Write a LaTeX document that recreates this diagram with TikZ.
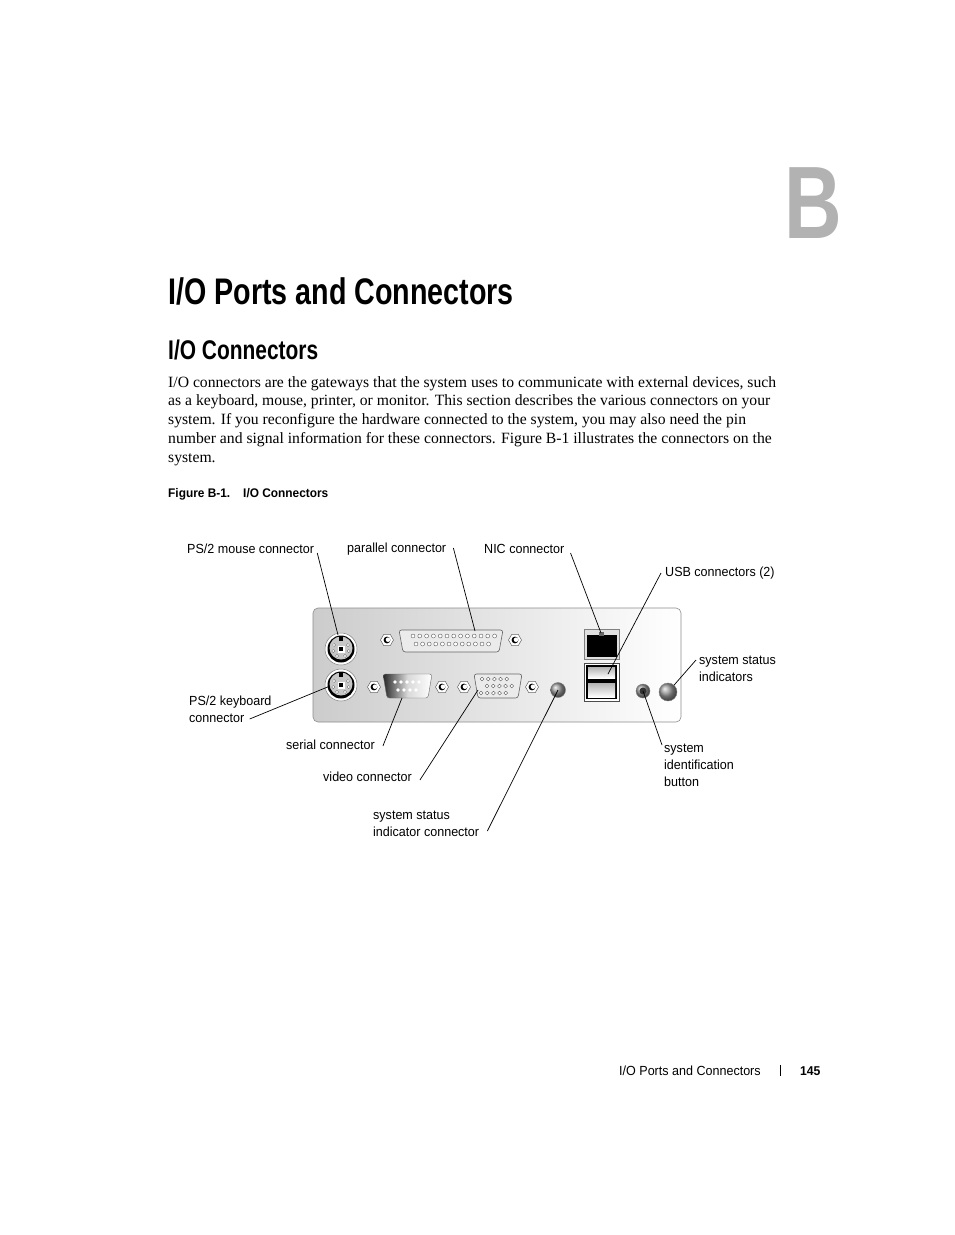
\documentclass[tikz,border=0pt]{standalone}
\usepackage{fontspec}
\usepackage{xcolor}
\setmainfont{Liberation Serif}
\newfontfamily\headfont[FakeStretch=0.775]{Liberation Sans}
\newfontfamily\labelfont[FakeStretch=0.95]{Liberation Sans}
\usetikzlibrary{calc, positioning, shapes.geometric}
\definecolor{panelgray}{gray}{0.80}
\definecolor{chaptergray}{gray}{0.70}
\tikzset{
    pagetext/.style={inner sep=0pt, anchor=base west, align=left},
    label/.style={pagetext, font=\labelfont\fontsize{13.2}{17}\selectfont},
    lead/.style={black, line width=0.7pt},
    panel/.style={draw=black!45, line width=0.6pt, rounded corners=5pt, left color=panelgray, right color=white},
    din/.style={circle, draw=black!50, fill=white, line width=0.5pt, minimum size=32pt, inner sep=0pt},
    screw/.style={regular polygon, regular polygon sides=6, draw=black!60, fill=white, line width=0.5pt, minimum size=13pt, inner sep=0pt},
    shell/.style={draw=black!60, line width=0.6pt, rounded corners=2.5pt, fill=black!8},
    led/.style={circle, draw=black!50, inner sep=0pt, ball color=black!40, shading=ball}
}
\begin{document}
\begin{tikzpicture}[x=1pt, y=-1pt]
    \useasboundingbox (0,0) rectangle (954,1235);

    % Page headings
    \node[pagetext, font=\headfont\bfseries\fontsize{103}{103}\selectfont, text=chaptergray] (chapter) at (784,238) {B};
    \node[pagetext, font=\headfont\bfseries\fontsize{37}{37}\selectfont] (title) at (168,304) {I/O Ports and Connectors};
    \node[pagetext, font=\headfont\bfseries\fontsize{27}{27}\selectfont] (section) at (168,359) {I/O Connectors};
    \node[pagetext, font=\fontsize{15.67}{18.7}\selectfont] (bodytext) at (168,462) {I/O connectors are the gateways that the system uses to communicate with external devices, such\\
        as a keyboard, mouse, printer, or monitor. This section describes the various connectors on your\\
        system. If you reconfigure the hardware connected to the system, you may also need the pin\\
        number and signal information for these connectors. Figure B-1 illustrates the connectors on the\\
        system.};
    \node[pagetext, font=\labelfont\bfseries\fontsize{12.5}{14}\selectfont] (caption) at (168,497) {Figure B-1.\hspace{13pt}I/O Connectors};

    % Back panel
    \draw[panel] (313,608) rectangle (681,722);

    % PS/2 ports
    \foreach \name/\y in {mouse/649, keyboard/685} {
        \node[din] (\name) at (341,\y) {};
        \fill[black] (\name) circle (13.5);
        \fill[black!22] ($(\name)+(0,-1)$) circle (11.5);
        \fill[white] ($(\name)+(-3.5,-3.5)$) rectangle ($(\name)+(3.5,3.5)$);
        \fill[black] ($(\name)+(-2,-2)$) rectangle ($(\name)+(2,2)$);
        \fill[black] ($(\name)+(-2,-13)$) rectangle ($(\name)+(2,-8)$);
        \foreach \a in {15,-30,60,120,165,210}
            \filldraw[fill=white, draw=black!60, line width=0.3pt] ($(\name)+(\a:8)$) circle (1.6);
    }

    % Screws beside the D connectors
    \foreach \name/\x/\y in {parL/387/640, parR/515/640, serL/374/687, serR/442/687, vidL/464/687, vidR/532/687} {
        \node[screw] (\name) at (\x,\y) {};
        \fill[black] (\name) circle (3.4);
        \fill[white] ($(\name)+(1,-0.3)$) circle (2.3);
    }

    % Parallel connector
    \draw[shell] (399,630) -- (503,630) -- (499,652) -- (403,652) -- cycle;
    \foreach \i in {0,...,12}
        \draw[black!70, fill=white, line width=0.35pt] (413+\i*6.8,636) circle (2);
    \foreach \i in {0,...,11}
        \draw[black!70, fill=white, line width=0.35pt] (416+\i*6.6,644) circle (2);

    % Serial connector
    \draw[draw=black!60, rounded corners=2.5pt, left color=black!85, right color=white, middle color=black!15] (383,674) -- (432,674) -- (428,698) -- (387,698) -- cycle;
    \foreach \i in {0,...,4}
        \fill[white] (395+\i*6,682) circle (1.8);
    \foreach \i in {0,...,3}
        \fill[white] (398+\i*6,690) circle (1.8);

    % Video connector
    \draw[shell] (474,674) -- (522,674) -- (518,698) -- (478,698) -- cycle;
    \foreach \y/\x in {679/482, 686/487, 693/481}
        \foreach \i in {0,...,4}
            \draw[black!70, fill=white, line width=0.35pt] (\x+\i*6.2,\y) circle (1.9);

    % NIC and USB
    \node[draw=black!50, fill=black!12, minimum width=35pt, minimum height=30pt, inner sep=0pt] (nic) at (601.5,644) {};
    \fill[black] (587,635) rectangle (617,657);
    \fill[black!60] (599,632) rectangle (604,636);
    \node[draw=black!70, fill=white, minimum width=35pt, minimum height=38pt, inner sep=0pt] (usb) at (601.5,682) {};
    \fill[black] (586,665) rectangle (617,699);
    \fill[black, top color=black!30, bottom color=white] (588,667) rectangle (615,678);
    \fill[black, top color=black!30, bottom color=white] (588,683) rectangle (615,697);

    % LEDs and button
    \node[led, minimum size=15pt] (ledport) at (558,690) {};
    \node[led, minimum size=14pt] (idbutton) at (643,691) {};
    \fill[black!80] (idbutton) circle (3.5);
    \node[led, minimum size=18pt] (statusled) at (668,692) {};

    % Labels
    \node[label] (lblMouse) at (187,553) {PS/2 mouse connector};
    \node[label] (lblParallel) at (347,552) {parallel connector};
    \node[label] (lblNic) at (484,553) {NIC connector};
    \node[label] (lblUsb) at (665,576) {USB connectors (2)};
    \node[label] (lblStatus) at (699,681) {system status\\indicators};
    \node[label] (lblKeyboard) at (189,722) {PS/2 keyboard\\connector};
    \node[label] (lblSerial) at (286,749) {serial connector};
    \node[label] (lblVideo) at (323,781) {video connector};
    \node[label] (lblLedport) at (373,836) {system status\\indicator connector};
    \node[label] (lblButton) at (664,786) {system\\identification\\button};

    % Leader lines
    \coordinate (endMouse) at (338,635);
    \coordinate (endParallel) at (475,631);
    \coordinate (endNic) at (601,633);
    \coordinate (endUsb) at (608,674);
    \coordinate (endKeyboard) at (330,686);
    \coordinate (endSerial) at (402,698);
    \coordinate (endVideo) at (478,690);
    \draw[lead] ($(lblMouse.base east)+(3,0)$) -- (endMouse);
    \draw[lead] ($(lblParallel.base east)+(7,-4)$) -- (endParallel);
    \draw[lead] ($(lblNic.base east)+(6,0)$) -- (endNic);
    \draw[lead] ($(lblUsb.base west)+(-4,-3)$) -- (endUsb);
    \draw[lead] ($(lblStatus.base west)+(-3,-21)$) -- (statusled);
    \draw[lead] ($(lblKeyboard.base east)+(-22,-3)$) -- (endKeyboard);
    \draw[lead] ($(lblSerial.base east)+(8,-3)$) -- (endSerial);
    \draw[lead] ($(lblVideo.base east)+(8,-1)$) -- (endVideo);
    \draw[lead] ($(lblLedport.base east)+(8,-5)$) -- (ledport.center);
    \draw[lead] ($(lblButton.base west)+(-2,-41)$) -- (idbutton.center);

    % Footer
    \node[label] (footer) at (619,1075) {I/O Ports and Connectors};
    \draw[black, line width=0.5pt] (780,1065) -- (780,1076);
    \node[pagetext, font=\labelfont\bfseries\fontsize{12.8}{14}\selectfont] (pagenum) at (800,1075) {145};
\end{tikzpicture}
\end{document}
